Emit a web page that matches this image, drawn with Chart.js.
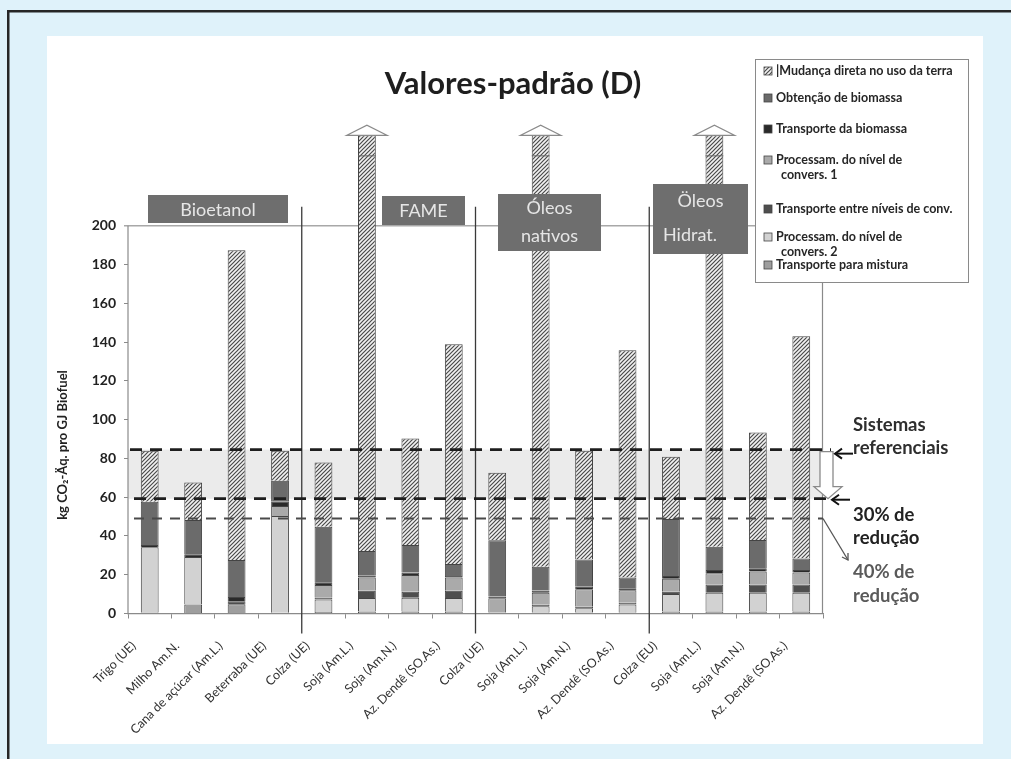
<!DOCTYPE html>
<html><head><meta charset="utf-8">
<script src="https://cdn.jsdelivr.net/npm/chart.js@4/dist/chart.umd.min.js"></script>
<style>html,body{margin:0;padding:0;background:#dff2fa;}#wrap{width:1011px;height:759px;position:relative}</style>
</head><body><div id="wrap"><canvas id="c" width="1011" height="759"></canvas></div>
<script>
// ---- data ----
const categories = ['Trigo (UE)','Milho Am.N.','Cana de açúcar (Am.L.)','Beterraba (UE)','Colza (UE)','Soja (Am.L.)','Soja (Am.N.)','Az. Dendê (SO.As.)','Colza (UE)','Soja (Am.L.)','Soja (Am.N.)','Az. Dendê (SO.As.)','Colza (EU)','Soja (Am.L.)','Soja (Am.N.)','Az. Dendê (SO.As.)'];
const yTicks = [0,20,40,60,80,100,120,140,160,180,200];
const transporteMistura  = [0.5,4.7,4.8,0.4,0.8,1.0,1.0,1.0,0.5,0.5,0.5,0.5,1.0,1.0,1.0,1.0];
const processam2         = [33.7,24.4,0,49.9,6.4,7.0,7.1,7.0,0,3.3,2.2,4.1,9.0,9.7,9.7,9.7];
const transporteEntre    = [0,0,1.5,0,1.0,3.7,3.1,3.7,0,0.7,0.8,1.0,1.2,4.3,4.3,4.3];
const processam1         = [0,0,0,5.1,6.5,6.8,8.6,6.8,7.3,6.2,9.0,6.4,6.7,5.7,6.6,6.2];
const transporteBiomassa = [1.1,1.4,2.2,2.2,1.4,1.0,1.4,0.9,1.0,1.1,1.3,1.0,1.4,1.7,1.7,1.2];
const obtencaoBiomassa   = [22.3,17.7,19.1,10.9,28.6,12.7,14.1,6.1,29.0,12.3,14.1,5.5,29.4,12.0,14.6,6.0];
const mudancaUsoTerra    = [26.3,19.4,159.7,15.4,33.2,214.4,55.0,113.3,34.8,222.5,56.0,117.3,32.1,212.2,55.5,114.6];
const seriesNames = ['Transporte para mistura','Processam. do nível de convers. 2','Transporte entre níveis de conv.','Processam. do nível de convers. 1','Transporte da biomassa','Obtenção de biomassa','|Mudança direta no uso da terra'];
const legendLines = [['|Mudança direta no uso da terra'],['Obtenção de biomassa'],['Transporte da biomassa'],['Processam. do nível de','convers. 1'],['Transporte entre níveis de conv.'],['Processam. do nível de','convers. 2'],['Transporte para mistura']];
const groups = [{label:['Bioetanol']},{label:['FAME']},{label:['Óleos','nativos']},{label:['Öleos','Hidrat.']}];
const refSistemas = 84.5, ref30 = 59.2, ref40 = 49;
const axisTop = 200, breakValue = 236;

// ---- styles ----
function hatchPattern(){
  const t=document.createElement('canvas'); t.width=4; t.height=4;
  const g=t.getContext('2d'); g.fillStyle='#f2f2f2'; g.fillRect(0,0,4,4);
  g.strokeStyle='#4a4a4a'; g.lineWidth=1.2; g.beginPath();
  g.moveTo(-1,5); g.lineTo(5,-1); g.moveTo(-1,1); g.lineTo(1,-1); g.moveTo(3,5); g.lineTo(5,3); g.stroke();
  return document.getElementById('c').getContext('2d').createPattern(t,'repeat');
}
const hatch = hatchPattern();
const colors = ['#9e9e9e','#d2d2d2','#4e4e4e','#aaaaaa','#2a2a2a','#6b6b6b',hatch];
const seriesData = [transporteMistura,processam2,transporteEntre,processam1,transporteBiomassa,obtencaoBiomassa,mudancaUsoTerra];
const FONT='Lato';

const deco = {
  id:'deco',
  beforeDraw(chart){
    const c=chart.ctx; c.save();
    c.fillStyle='#dff2fa'; c.fillRect(0,0,1011,759);
    c.fillStyle='#262626'; c.fillRect(7,10,1004,2.5); c.fillRect(7,10,2.5,749);
    c.fillStyle='#ffffff'; c.fillRect(47,36,936,708);
    c.restore();
  },
  beforeDatasetsDraw(chart){
    const c=chart.ctx, a=chart.chartArea, y=chart.scales.y, x=chart.scales.x;
    c.save();
    c.fillStyle='#ebebeb';
    const y1=y.getPixelForValue(refSistemas), y2=y.getPixelForValue(ref30);
    c.fillRect(a.left, y1, a.right-a.left, y2-y1);
    const yt=y.getPixelForValue(axisTop);
    c.strokeStyle='#a8a8a8'; c.lineWidth=1.5;
    c.beginPath(); c.moveTo(a.left-4, yt); c.lineTo(760, yt); c.stroke();
    c.strokeStyle='#8a8a8a'; c.lineWidth=1.2;
    c.beginPath(); c.moveTo(a.left, yt); c.lineTo(a.left, a.bottom); c.stroke();
    c.beginPath(); c.moveTo(a.right-0.5, yt); c.lineTo(a.right-0.5, a.bottom); c.stroke();
    c.strokeStyle='#3a3a3a'; c.lineWidth=1.3;
    [4,8,12].forEach(i=>{
      const px=(x.getPixelForValue(i-1)+x.getPixelForValue(i))/2;
      c.beginPath(); c.moveTo(px, yt-19); c.lineTo(px, a.bottom+20); c.stroke();
    });
    c.restore();
  },
  afterDatasetsDraw(chart){
    const c=chart.ctx, a=chart.chartArea, y=chart.scales.y, x=chart.scales.x;
    c.save();
    const yS=y.getPixelForValue(refSistemas), y3=y.getPixelForValue(ref30), y4=y.getPixelForValue(ref40);
    c.strokeStyle='#1e1e1e'; c.lineWidth=2.8; c.setLineDash([12,8]);
    c.beginPath(); c.moveTo(a.left+2,yS); c.lineTo(a.right+8,yS); c.stroke();
    c.beginPath(); c.moveTo(a.left+6,y3); c.lineTo(a.right+4,y3); c.stroke();
    c.strokeStyle='#4a4a4a'; c.lineWidth=2; c.setLineDash([10,8]);
    c.beginPath(); c.moveTo(a.left+6,y4); c.lineTo(a.right,y4); c.stroke();
    c.setLineDash([]);
    const meta=chart.getDatasetMeta(seriesData.length-1);
    meta.data.forEach((el,i)=>{
      const total=seriesData.reduce((s,d)=>s+d[i],0);
      if(total>axisTop){
        const yb=y.getPixelForValue(breakValue);
        c.strokeStyle='#666'; c.lineWidth=1;
        c.beginPath(); c.moveTo(el.x-el.width/2,yb); c.lineTo(el.x+el.width/2,yb); c.stroke();
        const t=el.y;
        c.beginPath(); c.moveTo(el.x-20,t); c.lineTo(el.x,t-10); c.lineTo(el.x+20,t); c.closePath();
        c.fillStyle='#fff'; c.fill(); c.strokeStyle='#8a8a8a'; c.lineWidth=1.3; c.stroke();
      }
    });
    const boxes=[[148,195,140,28],[382,196,83,29],[498,194,103,57],[653,184,95,70]];
    c.font='18px '+FONT; c.textBaseline='middle';
    boxes.forEach((b,k)=>{
      c.fillStyle='#6e6e6e'; c.fillRect(b[0],b[1],b[2],b[3]);
      c.fillStyle='#e6e6e6'; c.textAlign='center';
      const L=groups[k].label;
      if(L.length===1){ c.fillText(L[0], b[0]+b[2]/2, b[1]+b[3]/2+1); }
      else if(k===2){ c.fillText(L[0], b[0]+b[2]/2, b[1]+14); c.fillText(L[1], b[0]+b[2]/2, b[1]+42); }
      else { c.fillText(L[0], b[0]+b[2]/2, b[1]+17); c.textAlign='left'; c.fillText(L[1], b[0]+10, b[1]+51); }
    });
    c.fillStyle='#fff'; c.fillRect(755,59,213,223);
    c.strokeStyle='#8a8a8a'; c.lineWidth=1; c.strokeRect(755.5,59.5,213,223);
    const ly=[[71],[98],[129],[160,175],[209],[237,252],[265]];
    c.font='bold 12.5px '+FONT; c.textAlign='left'; c.textBaseline='middle';
    legendLines.forEach((lines,k)=>{
      const si=seriesData.length-1-k;
      c.fillStyle=colors[si]; c.fillRect(764,ly[k][0]-4,8,8);
      c.strokeStyle='#444'; c.lineWidth=0.8; c.strokeRect(764,ly[k][0]-4,8,8);
      c.fillStyle='#262626';
      lines.forEach((t,j)=>c.fillText(t, j===0?776:781, ly[k][j]));
    });
    c.fillStyle='#1e1e1e'; c.font='bold 31px '+FONT; c.textAlign='center';
    c.fillText('Valores-padrão (D)', 513, 84);
    c.save(); c.translate(63,445); c.rotate(-Math.PI/2);
    c.font='bold 13px '+FONT; c.fillStyle='#222'; c.textAlign='center';
    c.fillText('kg CO₂-Äq. pro GJ Biofuel',0,0); c.restore();
    c.font='bold 18.5px '+FONT; c.textAlign='left';
    c.fillStyle='#2e2e2e'; c.fillText('Sistemas',853,425); c.fillText('referenciais',853,448);
    c.fillStyle='#222'; c.fillText('30% de',853,515); c.fillText('redução',853,538);
    c.fillStyle='#5a5a5a'; c.fillText('40% de',853,572); c.fillText('redução',853,596);
    const bx=a.right+3;
    c.beginPath();
    c.moveTo(bx-6,yS+2); c.lineTo(bx+7,yS+2); c.lineTo(bx+7,y3-12); c.lineTo(bx+16,y3-12);
    c.lineTo(bx+2,y3); c.lineTo(bx-12,y3-12); c.lineTo(bx-6,y3-12); c.closePath();
    c.fillStyle='#fff'; c.fill(); c.strokeStyle='#8a8a8a'; c.lineWidth=1.3; c.stroke();
    c.strokeStyle='#111'; c.lineWidth=2;
    [[yS+4,835,853],[y3+1,832,850]].forEach(([yy,x1,x2])=>{
      c.beginPath(); c.moveTo(x2,yy); c.lineTo(x1,yy); c.stroke();
      c.beginPath(); c.moveTo(x1+7,yy-5); c.lineTo(x1,yy); c.lineTo(x1+7,yy+5); c.stroke();
    });
    c.strokeStyle='#555'; c.lineWidth=1.3;
    c.beginPath(); c.moveTo(a.right,y4); c.lineTo(848,560); c.stroke();
    c.beginPath(); c.moveTo(842,557); c.lineTo(848,560); c.lineTo(848,553); c.stroke();
    c.restore();
  }
};

new Chart(document.getElementById('c'),{
  type:'bar',
  data:{labels:categories, datasets: seriesData.map((d,i)=>({label:seriesNames[i], data:d, backgroundColor:colors[i], borderColor:'#444', borderWidth:1, categoryPercentage:1, barPercentage:0.41}))},
  options:{
    responsive:false, animation:false, devicePixelRatio:1,
    layout:{padding:{top:119,right:188,left:0,bottom:0}},
    plugins:{legend:{display:false},title:{display:false},tooltip:{enabled:false}},
    scales:{
      x:{stacked:true,
         grid:{display:true,drawOnChartArea:false,offset:true,tickLength:5,color:'#8a8a8a'},
         border:{display:true,color:'#8a8a8a',width:1.2},
         ticks:{autoSkip:false,maxRotation:45,minRotation:45,labelOffset:-16,padding:20,color:'#333',font:{family:FONT,size:12.5}},
         afterFit(s){s.height=145.5;}},
      y:{stacked:true,min:0,max:255,
         afterBuildTicks(s){s.ticks=yTicks.map(v=>({value:v}));},
         grid:{display:true,drawOnChartArea:false,tickLength:4,color:'#8a8a8a'},
         border:{display:false},
         ticks:{padding:8,color:'#222',font:{family:FONT,size:14,weight:'bold'}},
         afterFit(s){s.width=128;}}
    }
  },
  plugins:[deco]
});
</script></body></html>
